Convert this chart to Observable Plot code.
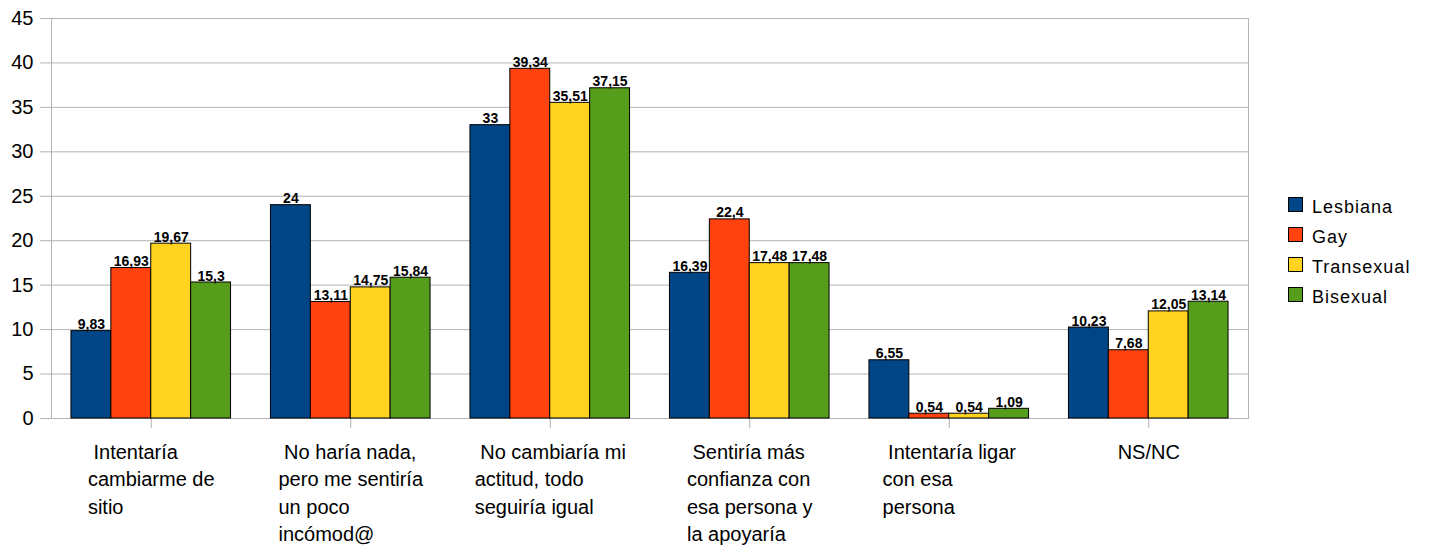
<!DOCTYPE html>
<html>
<head>
<meta charset="utf-8">
<script src="https://cdn.jsdelivr.net/npm/d3@7"></script>
<script src="https://cdn.jsdelivr.net/npm/@observablehq/plot@0.6"></script>
<style>
  html, body { margin: 0; padding: 0; background: #fff; }
  #wrap { position: relative; width: 1429px; height: 546px; }
  #wrap svg text { white-space: pre; }
  #legend { position: absolute; left: 1288px; top: 197px; font-family: "Liberation Sans", Arial, sans-serif; font-size: 18px; letter-spacing: 1px; color: #000; }
  .item { display: flex; align-items: flex-start; height: 30px; }
  .sw { width: 13px; height: 13px; border: 1px solid #000; margin-right: 9px; }
  .lb { line-height: 18px; margin-top: 1px; }
</style>
</head>
<body>
<div id="wrap"><div id="legend"></div></div>
<script>
const categories = [
  " Intentaría\ncambiarme de\nsitio",
  " No haría nada,\npero me sentiría\nun poco\nincómod@",
  " No cambiaría mi\nactitud, todo\nseguiría igual",
  " Sentiría más\nconfianza con\nesa persona y\nla apoyaría",
  " Intentaría ligar\ncon esa\npersona",
  "NS/NC"
];
const series = ["Lesbiana", "Gay", "Transexual", "Bisexual"];
const colors = ["#004586", "#ff420e", "#ffd320", "#579d1c"];
const lesbiana   = [9.83, 24, 33, 16.39, 6.55, 10.23];
const gay        = [16.93, 13.11, 39.34, 22.4, 0.54, 7.68];
const transexual = [19.67, 14.75, 35.51, 17.48, 0.54, 12.05];
const bisexual   = [15.3, 15.84, 37.15, 17.48, 1.09, 13.14];
const yTicks = [0, 5, 10, 15, 20, 25, 30, 35, 40, 45];

const seriesValues = [lesbiana, gay, transexual, bisexual];
const rows = [];
series.forEach((s, i) => categories.forEach((c, j) => rows.push({category: c, series: s, value: seriesValues[i][j]})));

const W = 1429, H = 546;
const mL = 51, mR = 181, mT = 18, mB = 128;
const pIn = 0.2, pOut = 0.1;
const step = (W - mL - mR) / (categories.length - pIn + 2 * pOut);
const bandW = step * (1 - pIn);
const barW = bandW / series.length;

const fmt = v => String(v).replace(".", ",");
const font = "'Liberation Sans', Arial, sans-serif";

// measure label block widths
const ctx = document.createElement("canvas").getContext("2d");
ctx.font = "20px 'Liberation Sans'";
const blockWidth = c => Math.max(...c.split("\n").map(l => ctx.measureText(l).width));

const marks = [
  Plot.gridY(yTicks, {stroke: "#b3b3b3", strokeOpacity: 1}),
  Plot.frame({anchor: "left", stroke: "#b3b3b3"}),
  Plot.frame({anchor: "right", stroke: "#b3b3b3"}),
  Plot.axisY({ticks: yTicks, tickSize: 11, tickPadding: 7, stroke: "#b3b3b3", fill: "#000", fontSize: 20, label: null}),
  Plot.axisX({tickSize: 10, tickFormat: () => "", stroke: "#b3b3b3", label: null})
];
series.forEach((s, i) => {
  const data = rows.filter(d => d.series === s);
  marks.push(Plot.barY(data, {
    x: "category", y: "value", fill: colors[i], stroke: "#000", strokeWidth: 1,
    insetLeft: i * barW, insetRight: (series.length - 1 - i) * barW
  }));
  marks.push(Plot.text(data, {
    x: "category", y: "value", text: d => fmt(d.value),
    dx: (i - (series.length - 1) / 2) * barW, dy: -2, lineAnchor: "bottom",
    fontWeight: "bold", fontSize: 14, fill: "#000"
  }));
});
categories.forEach(c => {
  marks.push(Plot.text([c], {
    x: d => d, text: d => d, frameAnchor: "bottom", lineAnchor: "top",
    textAnchor: "start", dx: -blockWidth(c) / 2, dy: 20.5,
    fontSize: 20, lineHeight: 1.375, fill: "#000"
  }));
});

const chart = Plot.plot({
  width: W, height: H,
  marginLeft: mL, marginRight: mR, marginTop: mT, marginBottom: mB,
  style: {fontFamily: font, fontSize: "20px", background: "#fff", overflow: "visible", color: "#000"},
  x: {domain: categories, paddingInner: pIn, paddingOuter: pOut, round: false},
  y: {domain: [0, 45]},
  marks
});
document.getElementById("wrap").insertBefore(chart, document.getElementById("legend"));

const legend = document.getElementById("legend");
series.forEach((s, i) => {
  const item = document.createElement("div");
  item.className = "item";
  item.innerHTML = `<div class="sw" style="background:${colors[i]}"></div><div class="lb">${s}</div>`;
  legend.appendChild(item);
});
</script>
</body>
</html>
